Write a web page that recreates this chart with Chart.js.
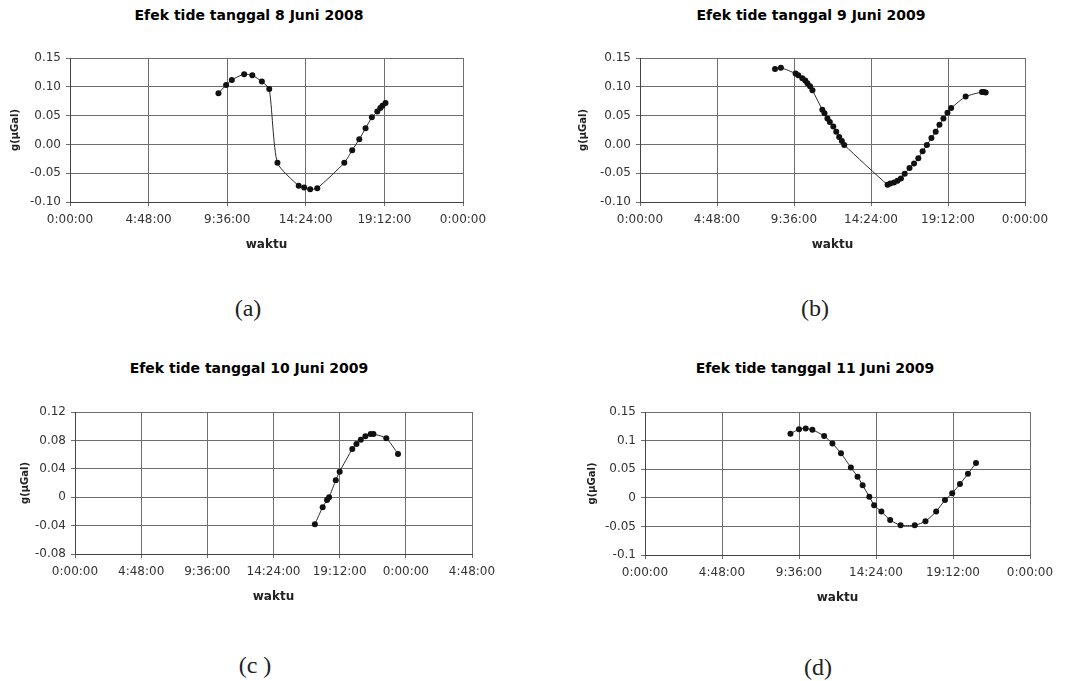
<!DOCTYPE html>
<html>
<head>
<meta charset="utf-8">
<title>Efek tide</title>
<script src="https://cdn.jsdelivr.net/npm/chart.js@4.4.1/dist/chart.umd.min.js"></script>
<style>
    body { margin: 0; background: #fff; width: 1069px; height: 681px; position: relative; overflow: hidden; }
    .panel { position: absolute; }
    .judul { position: absolute; font: bold 14px "DejaVu Sans"; color: #000; white-space: nowrap; transform: translate(-50%, -50%); }
    .huruf { position: absolute; font: 24px "Liberation Serif"; color: #222; white-space: nowrap; transform: translate(-50%, -50%); }
</style>
</head>
<body>
<div class="judul" style="left:249px; top:15px;">Efek tide tanggal 8 Juni 2008</div>
<div class="judul" style="left:811px; top:15px;">Efek tide tanggal 9 Juni 2009</div>
<div class="judul" style="left:249px; top:368px;">Efek tide tanggal 10 Juni 2009</div>
<div class="judul" style="left:815px; top:368px;">Efek tide tanggal 11 Juni 2009</div>

<div class="panel" style="left:0px; top:0px; width:530px; height:256px;"><canvas id="chartA"></canvas></div>
<div class="panel" style="left:568px; top:0px; width:501px; height:256px;"><canvas id="chartB"></canvas></div>
<div class="panel" style="left:10px; top:354px; width:520px; height:254px;"><canvas id="chartC"></canvas></div>
<div class="panel" style="left:577px; top:354px; width:492px; height:255px;"><canvas id="chartD"></canvas></div>

<div class="huruf" style="left:248px; top:308px;">(a)</div>
<div class="huruf" style="left:815px; top:308px;">(b)</div>
<div class="huruf" style="left:255px; top:665px;">(c )</div>
<div class="huruf" style="left:818px; top:667px;">(d)</div>

<script>
// data: jam (waktu) dan nilai g (µGal)
const waktuA = ['9:04', '9:32', '9:53', '10:38', '11:08', '11:43', '12:10', '12:40', '13:58', '14:18', '14:40',
    '15:06', '16:45', '17:14', '17:40', '18:03', '18:26', '18:46', '18:57', '19:05', '19:16'];
const nilaiA = [0.089, 0.103, 0.112, 0.122, 0.120, 0.109, 0.096, -0.032, -0.072, -0.075, -0.078,
    -0.076, -0.032, -0.010, 0.009, 0.028, 0.047, 0.057, 0.063, 0.067, 0.072];

const waktuB = ['8:25', '8:47', '9:42', '9:52', '10:07', '10:18', '10:26', '10:36', '10:45', '11:22', '11:30', '11:41',
    '11:50', '12:03', '12:14', '12:25', '12:35', '12:44', '15:26', '15:36', '15:50', '16:03', '16:16', '16:30',
    '16:48', '17:05', '17:21', '17:37', '17:53', '18:10', '18:26', '18:40', '18:55', '19:10', '19:24', '20:18',
    '21:19', '21:26', '21:33'];
const nilaiB = [0.131, 0.133, 0.123, 0.120, 0.115, 0.111, 0.106, 0.101, 0.094, 0.060, 0.054, 0.045,
    0.039, 0.031, 0.022, 0.013, 0.006, -0.001, -0.070, -0.068, -0.066, -0.063, -0.059, -0.051,
    -0.041, -0.033, -0.024, -0.012, -0.001, 0.011, 0.022, 0.034, 0.045, 0.055, 0.063, 0.083,
    0.091, 0.091, 0.090];

const waktuC = ['17:24', '17:58', '18:17', '18:26', '18:55', '19:12', '20:07', '20:25', '20:44', '21:04', '21:27',
    '21:39', '22:35', '23:26'];
const nilaiC = [-0.038, -0.014, -0.004, 0.000, 0.024, 0.036, 0.068, 0.075, 0.081, 0.086, 0.089,
    0.089, 0.083, 0.061];

const waktuD = ['9:04', '9:36', '10:01', '10:26', '11:10', '11:41', '12:13', '12:50', '13:15', '13:34', '13:59',
    '14:17', '14:44', '15:17', '15:56', '16:49', '17:29', '18:09', '18:42', '19:09', '19:38', '20:08', '20:38'];
const nilaiD = [0.112, 0.120, 0.121, 0.119, 0.108, 0.095, 0.078, 0.053, 0.037, 0.022, 0.002,
    -0.013, -0.024, -0.039, -0.048, -0.048, -0.041, -0.024, -0.004, 0.008, 0.024, 0.042, 0.061];

// label sumbu
const judulX = 'waktu';
const judulY = 'g(µGal)';

// jam "h:mm" -> fraksi hari (seperti Excel)
function keHari(t) {
    const parts = t.split(':').map(Number);
    return (parts[0] * 60 + parts[1]) / 1440;
}

// fraksi hari -> "h:mm:ss"
function formatWaktu(value) {
    let menit = Math.round((value % 1) * 1440);
    if (menit >= 1440) menit -= 1440;
    const jam = Math.floor(menit / 60);
    const mm = menit % 60;
    return jam + ':' + (mm < 10 ? '0' + mm : mm) + ':00';
}

const fontTick = { family: 'DejaVu Sans', size: 12 };

function renderTideChart(canvasId, waktu, nilai, opsi) {
    const points = waktu.map((t, i) => ({ x: keHari(t), y: nilai[i] }));

    const ctx = document.getElementById(canvasId).getContext('2d');
    new Chart(ctx, {
        type: 'scatter',
        data: {
            datasets: [{
                data: points,
                showLine: true,
                borderColor: '#2a2a2a',
                borderWidth: 1,
                tension: 0.2,
                pointRadius: 3,
                pointBackgroundColor: '#111',
                pointBorderWidth: 0
            }]
        },
        options: {
            responsive: true,
            maintainAspectRatio: false,
            animation: false,
            layout: {
                padding: { top: 58, right: opsi.padRight, left: 0, bottom: 0 }
            },
            plugins: {
                legend: { display: false },
                tooltip: { enabled: false }
            },
            scales: {
                x: {
                    type: 'linear',
                    min: 0,
                    max: opsi.xMax,
                    ticks: {
                        stepSize: 0.2,
                        autoSkip: false,
                        maxRotation: 0,
                        padding: 7,
                        color: '#333',
                        font: fontTick,
                        callback: formatWaktu
                    },
                    grid: { color: '#6e6e6e', tickLength: 4 },
                    border: { color: '#444' },
                    title: {
                        display: true,
                        text: judulX,
                        color: '#222',
                        font: { family: 'DejaVu Sans', size: 12, weight: 'bold' },
                        padding: { top: 0, bottom: 4 }
                    },
                    afterFit: (scale) => { scale.height = 54; }
                },
                y: {
                    min: opsi.yMin,
                    max: opsi.yMax,
                    ticks: {
                        stepSize: opsi.yStep,
                        padding: 5,
                        color: '#333',
                        font: fontTick,
                        callback: opsi.yFormat
                    },
                    grid: { color: '#6e6e6e', tickLength: 4 },
                    border: { color: '#444' },
                    title: {
                        display: true,
                        text: judulY,
                        color: '#222',
                        font: { family: 'DejaVu Sans', size: 10, weight: 'bold' },
                        padding: { top: 9, bottom: 0 }
                    },
                    afterFit: (scale) => { scale.width = opsi.yWidth; }
                }
            }
        }
    });
}

const duaDesimal = (v) => v.toFixed(2);
const ringkas = (v) => String(Number(v.toFixed(2)));

renderTideChart('chartA', waktuA, nilaiA, { xMax: 1, yMin: -0.1, yMax: 0.15, yStep: 0.05, yFormat: duaDesimal, yWidth: 70, padRight: 67 });
renderTideChart('chartB', waktuB, nilaiB, { xMax: 1, yMin: -0.1, yMax: 0.15, yStep: 0.05, yFormat: duaDesimal, yWidth: 72, padRight: 44 });
renderTideChart('chartC', waktuC, nilaiC, { xMax: 1.2, yMin: -0.08, yMax: 0.12, yStep: 0.04, yFormat: ringkas, yWidth: 65, padRight: 58 });
renderTideChart('chartD', waktuD, nilaiD, { xMax: 1, yMin: -0.1, yMax: 0.15, yStep: 0.05, yFormat: ringkas, yWidth: 68, padRight: 39 });
</script>
</body>
</html>
